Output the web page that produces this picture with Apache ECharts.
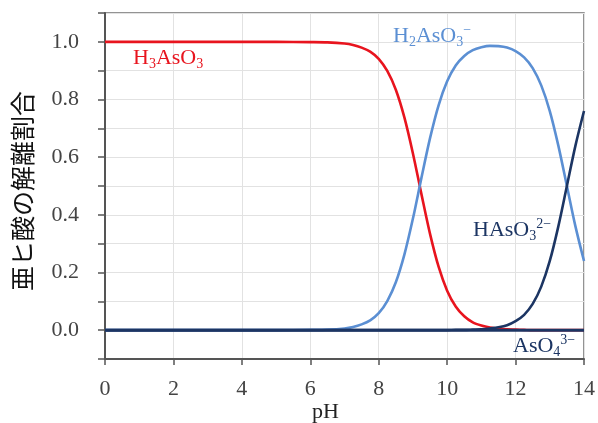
<!DOCTYPE html>
<html>
<head>
<meta charset="utf-8">
<script src="https://cdn.jsdelivr.net/npm/echarts@6/dist/echarts.min.js"></script>
<style>
  html, body { margin: 0; padding: 0; background: #fff; }
  #chart { width: 598px; height: 423px; }
</style>
</head>
<body>
<div id="chart"></div>
<script>
// pH sample points
const ph = [0, 1, 2, 3, 4, 5, 6, 6.5, 7, 7.25, 7.5, 7.75, 8, 8.25, 8.5, 8.75, 9, 9.25, 9.5, 9.75,
            10, 10.25, 10.5, 10.75, 11, 11.25, 11.5, 11.75, 12, 12.25, 12.5, 12.75, 13, 13.25, 13.5, 13.75, 14];

// fraction of each species at the pH points above
const h3AsO3 = [1, 1, 1, 1, 1, 1, 0.999, 0.998, 0.994, 0.989, 0.980, 0.966, 0.941, 0.899, 0.834, 0.738,
                0.613, 0.471, 0.334, 0.220, 0.137, 0.082, 0.048, 0.027, 0.016, 0.009, 0.005, 0.003,
                0.002, 0.001, 0, 0, 0, 0, 0, 0, 0];
const h2AsO3 = [0, 0, 0, 0, 0, 0, 0.001, 0.002, 0.006, 0.011, 0.020, 0.034, 0.059, 0.101, 0.166, 0.262,
                0.387, 0.529, 0.666, 0.780, 0.863, 0.918, 0.951, 0.971, 0.981, 0.986, 0.985, 0.980,
                0.968, 0.946, 0.909, 0.849, 0.760, 0.640, 0.500, 0.360, 0.240];
const hAsO3 = [0, 0, 0, 0, 0, 0, 0, 0, 0, 0, 0, 0, 0, 0, 0, 0, 0, 0, 0, 0, 0,
               0.001, 0.001, 0.002, 0.003, 0.006, 0.010, 0.017, 0.031, 0.053, 0.091, 0.151,
               0.240, 0.360, 0.500, 0.640, 0.760];
const asO4Ph = [0, 14];
const asO4 = [0, 0];

// axis ticks
const xTicks = [0, 2, 4, 6, 8, 10, 12, 14];
const yLabels = ['0.0', '0.2', '0.4', '0.6', '0.8', '1.0'];

const pairs = (xs, ys) => xs.map((x, i) => [x, ys[i]]);

const serif = '"Liberation Serif", "DejaVu Serif", serif';
const RED = '#e8141e', LIGHT = '#5b8fd3', NAVY = '#1c3563';

const chart = echarts.init(document.getElementById('chart'), null, { renderer: 'canvas' });

function speciesText(x, y, text, color) {
  return {
    type: 'text', left: x, top: y, z: 10,
    style: {
      text: text, fill: color, font: '22px ' + serif,
      rich: {
        n: { fontSize: 22, fontFamily: serif, color: color, lineHeight: 26 },
        sb: { fontSize: 14, fontFamily: serif, color: color, lineHeight: 21, verticalAlign: 'bottom' },
        sp: { fontSize: 14, fontFamily: serif, color: color, lineHeight: 16, verticalAlign: 'top' }
      }
    }
  };
}

const option = {
  animation: false,
  backgroundColor: '#fff',
  grid: {
    left: 105, right: 14, top: 13, bottom: 64,
    show: true, borderColor: '#707070', borderWidth: 1.5, backgroundColor: 'transparent'
  },
  xAxis: {
    type: 'value', min: 0, max: 14, interval: 2,
    axisLine: { show: true, onZero: false, lineStyle: { color: '#555', width: 2 } },
    axisTick: { show: true, length: 6, lineStyle: { color: '#555', width: 1.5 } },
    axisLabel: {
      margin: 19, color: '#444', fontFamily: serif, fontSize: 22,
      formatter: v => xTicks.includes(v) ? String(v) : ''
    },
    splitLine: { show: true, lineStyle: { color: '#e2e2e2', width: 1 } }
  },
  yAxis: {
    type: 'value', min: -0.1, max: 1.1, interval: 0.1,
    axisLine: { show: true, onZero: false, lineStyle: { color: '#555', width: 2 } },
    axisTick: { show: true, length: 7, lineStyle: { color: '#555', width: 1.5 } },
    axisLabel: {
      margin: 26, color: '#444', fontFamily: serif, fontSize: 22,
      formatter: v => {
        const s = v.toFixed(1);
        return yLabels.includes(s) ? s : '';
      }
    },
    splitLine: { show: true, lineStyle: { color: '#e2e2e2', width: 1 } }
  },
  graphic: [
    {
      type: 'text', x: 10, y: 291, rotation: Math.PI / 2, originX: 0, originY: 0,
      style: {
        text: '亜ヒ酸の解離割合', fill: '#111',
        font: '25px "Noto Sans CJK JP", sans-serif'
      }
    },
    {
      type: 'text', left: 312, top: 401,
      style: { text: 'pH', fill: '#222', font: '22px ' + serif }
    },
    speciesText(133, 47, '{n|H}{sb|3}{n|AsO}{sb|3}', RED),
    speciesText(393, 23, '{n|H}{sb|2}{n|AsO}{sb|3}{sp|−}', LIGHT),
    speciesText(473, 217, '{n|HAsO}{sb|3}{sp|2−}', NAVY),
    speciesText(513, 333, '{n|AsO}{sb|4}{sp|3−}', NAVY)
  ],
  series: [
    {
      name: 'H3AsO3', type: 'line', data: pairs(ph, h3AsO3), showSymbol: false,
      smooth: 0.3, lineStyle: { color: RED, width: 2.6 }, z: 3
    },
    {
      name: 'H2AsO3-', type: 'line', data: pairs(ph, h2AsO3), showSymbol: false,
      smooth: 0.3, lineStyle: { color: LIGHT, width: 2.6 }, z: 3
    },
    {
      name: 'HAsO3 2-', type: 'line', data: pairs(ph, hAsO3), showSymbol: false,
      smooth: 0.3, lineStyle: { color: NAVY, width: 2.6 }, z: 4
    },
    {
      name: 'AsO4 3-', type: 'line', data: pairs(asO4Ph, asO4), showSymbol: false,
      lineStyle: { color: NAVY, width: 3 }, z: 5
    }
  ]
};

chart.setOption(option);
</script>
</body>
</html>
